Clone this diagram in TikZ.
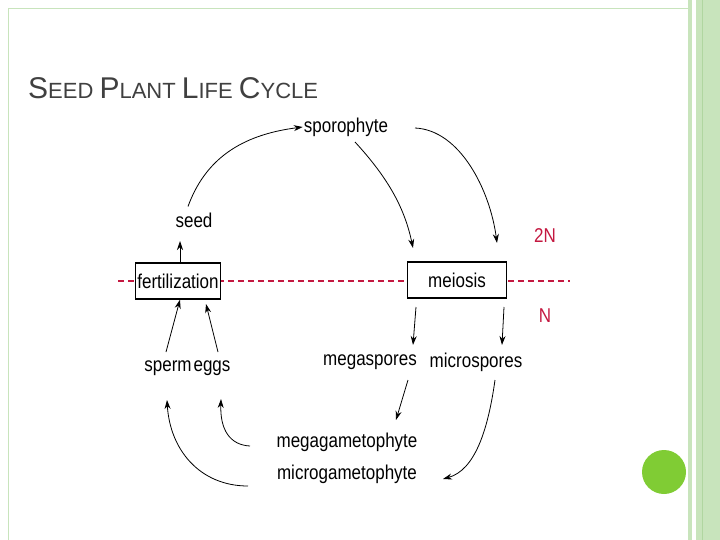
\documentclass[tikz,border=0pt]{standalone}
\usepackage{fontspec}
\setmainfont{Liberation Sans}
\usetikzlibrary{arrows.meta}
\definecolor{lg}{RGB}{200,228,188}
\definecolor{mg}{RGB}{176,214,160}
\definecolor{dot}{RGB}{128,204,52}
\definecolor{rd}{RGB}{196,24,64}
\newcommand\cnd[1]{\scalebox{0.85}[1]{#1}}
\begin{document}
\begin{tikzpicture}[x=1pt,y=-1pt,
  lbl/.style={inner sep=1pt,font=\fontsize{20}{21}\selectfont},
  box/.style={draw,line width=1.3pt,inner sep=0pt,minimum height=36pt},
  arr/.style={-{Stealth[length=9pt,width=6pt]},line width=0.8pt}]
\useasboundingbox (0,0) rectangle (720,540);
\fill[white] (0,0) rectangle (720,540);
% right decoration
\fill[lg] (688,0) rectangle (692,540);
\fill[lg] (696,0) rectangle (720,540);
\draw[mg,line width=1pt] (702,0) -- (702,540);
\draw[lg,line width=0.6pt] (8,540) -- (8,8) -- (688,8);
\fill[dot] (664,472) circle (22);
% title
\node[anchor=base west,text=black!75,inner sep=0] (title) at (28,99)
  {\fontsize{30}{31}\selectfont S\fontsize{22}{23}\selectfont EED {\fontsize{30}{31}\selectfont P}LANT {\fontsize{30}{31}\selectfont L}IFE {\fontsize{30}{31}\selectfont C}YCLE};
% dashed line
\draw[rd,line width=1.5pt,dash pattern=on 6pt off 4pt] (118,281) -- (570,281);
% nodes
\node[lbl] (spo) at (346,127) {\cnd{sporophyte}};
\node[lbl] (seed) at (194,220) {\cnd{seed}};
\node[box,fill=white,minimum width=81pt,lbl,inner xsep=2pt] (fert) at (178,281) {\cnd{fertilization}};
\node[box,fill=white,minimum width=99pt,lbl] (mei) at (457,280) {\cnd{meiosis}};
\node[lbl,text=rd] (twoN) at (545,236) {\cnd{2N}};
\node[lbl,text=rd] (oneN) at (545,316) {\cnd{N}};
\node[lbl] (sperm) at (168,368) {\cnd{sperm}};
\node[lbl] (eggs) at (212,368) {\cnd{eggs}};
\node[lbl] (mega) at (370,362) {\cnd{megaspores}};
\node[lbl] (micro) at (476,362) {\cnd{microspores}};
\node[lbl] (mgam) at (347,442) {\cnd{megagametophyte}};
\node[lbl] (mcgam) at (347,474) {\cnd{microgametophyte}};
% arrows
\draw[arr] (seed.north) ++(-6,-5) coordinate (s1) (s1) .. controls (205,160) and (240,135) .. (spo.west);
\draw[arr] (fert.north) ++(2,0) coordinate (f1) (f1) -- (180,241);
\draw[arr] (355,142) .. controls (390,180) and (405,210) .. (413,248);
\draw[arr] (415,128) .. controls (460,130) and (490,190) .. (497,243);
\draw[arr] (416,307) -- (413,345);
\draw[arr] (504,307) -- (502,345);
\draw[arr] (408,380) -- (396,420);
\draw[arr] (495,380) .. controls (488,430) and (475,470) .. (443,479);
\draw[arr] (250,446) .. controls (230,445) and (220,430) .. (221,399);
\draw[arr] (248,486) .. controls (200,486) and (170,450) .. (167,400);
\draw[arr] (166,352) -- (fert.south -| 180,0);
\draw[arr] (218,352) -- (206,304);
\end{tikzpicture}
\end{document}
